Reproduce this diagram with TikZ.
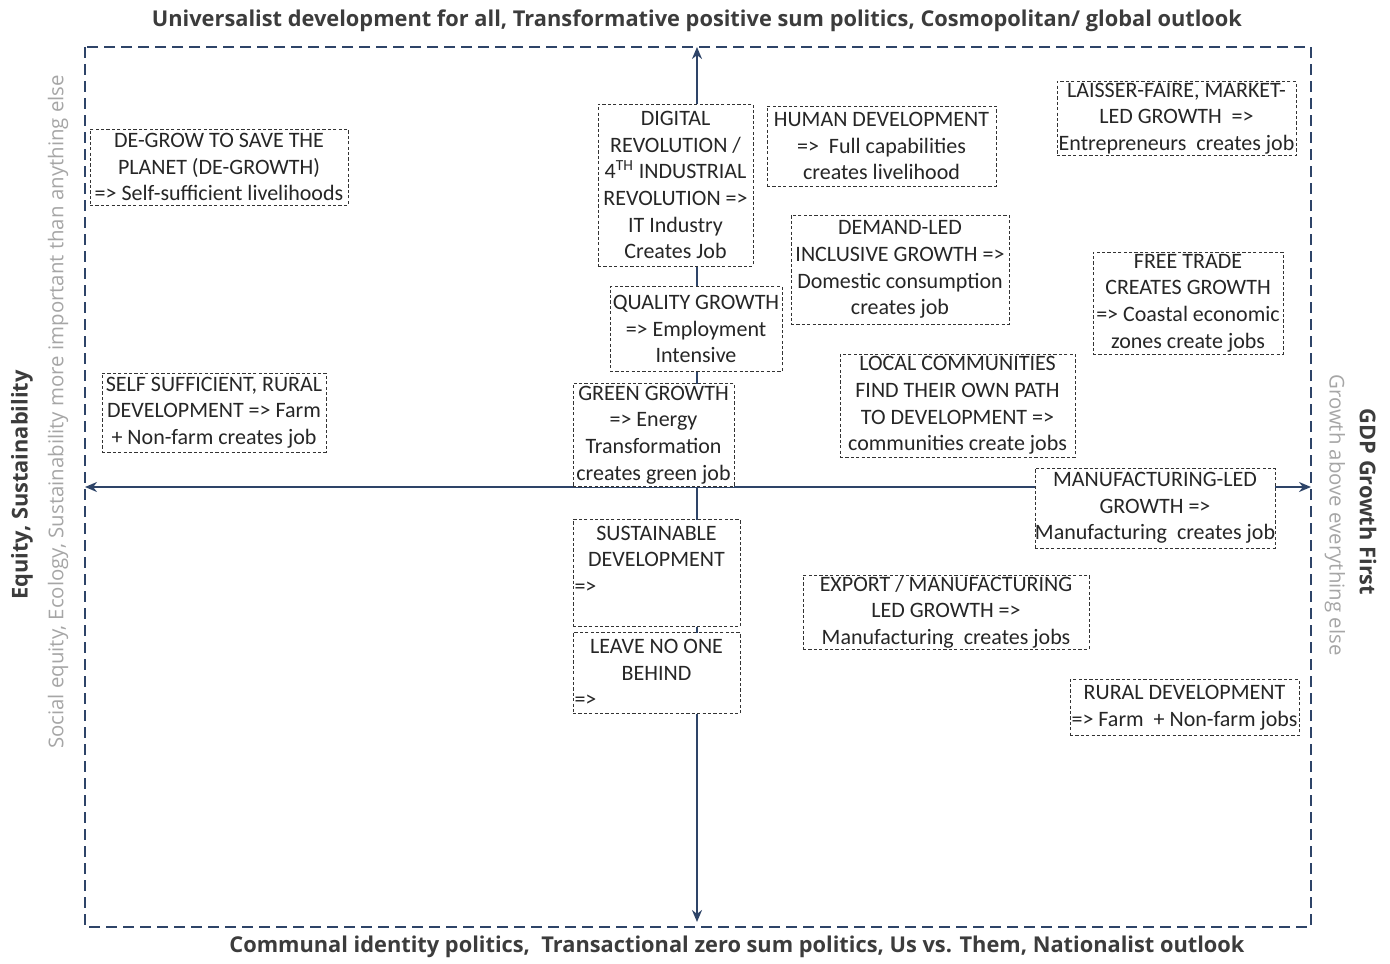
\documentclass[tikz,border=0pt]{standalone}
\usepackage{fontspec}
\setmainfont{Carlito}
\newfontfamily\headfont{Open Sans}
\usepackage{tikz}
\usetikzlibrary{arrows.meta}

\definecolor{navy}{HTML}{2E4468}
\definecolor{txt}{HTML}{262626}
\definecolor{subgray}{HTML}{A6A6A6}

\begin{document}
\begin{tikzpicture}[x=0.5pt,y=-0.5pt,
  box/.style={draw=black!80, dash pattern=on 1.6pt off 1.1pt, line width=0.4pt, fill=white,
    text=txt, align=center, inner sep=0pt, font=\fontsize{11}{13.35}\selectfont},
  axis/.style={draw=navy, line width=1pt, {Stealth[length=6pt,width=5pt]}-{Stealth[length=6pt,width=5pt]}},
  frame/.style={draw=navy, line width=1.4pt, dash pattern=on 5.5pt off 3pt},
  head/.style={text=txt!90, font=\headfont\bfseries\fontsize{10.9}{12}\selectfont},
  sub/.style={text=subgray, font=\headfont\fontsize{10.2}{12}\selectfont}]
\useasboundingbox (0,0) rectangle (1390,963);

% Frame
\coordinate (nw) at (85,47);
\coordinate (se) at (1311,927);
\draw[frame] (nw) rectangle (se);

% Axes
\coordinate (top) at (697,47);
\coordinate (bottom) at (697,922);
\coordinate (left) at (85,487);
\coordinate (right) at (1311,487);
\draw[axis] (bottom) -- (top);
\draw[axis] (left) -- (right);

% Boxes, upper left
\node[box, minimum width=129pt, minimum height=38pt] (degrow) at (219,167)
  {DE-GROW TO SAVE THE\\PLANET (DE-GROWTH)\\=> Self-sufficient livelihoods};
\node[box, minimum width=112pt, minimum height=39.5pt] (selfsuff) at (214,412.5)
  {SELF SUFFICIENT, RURAL\\DEVELOPMENT => Farm\\+ Non-farm creates job};

% Boxes along the vertical axis
\node[box, minimum width=77.5pt, minimum height=81pt] (digital) at (675.5,185)
  {DIGITAL\\REVOLUTION /\\4\textsuperscript{TH} INDUSTRIAL\\REVOLUTION =>\\IT Industry\\Creates Job};
\node[box, minimum width=86pt, minimum height=42.5pt] (quality) at (696,329)
  {QUALITY GROWTH\\=> Employment\\Intensive};
\node[box, minimum width=80.5pt, minimum height=51.5pt] (green) at (653.5,435)
  {GREEN GROWTH\\=> Energy\\Transformation\\creates green job};
\node[box, minimum width=83.5pt, minimum height=53.5pt] (sustain) at (656.5,573)
  {SUSTAINABLE\\DEVELOPMENT\\\makebox[82pt][l]{=>}\\~};
\node[box, minimum width=83.5pt, minimum height=40.5pt] (leave) at (656.5,673)
  {LEAVE NO ONE\\BEHIND\\\makebox[82pt][l]{=>}};

% Boxes, upper right
\node[box, minimum width=114.5pt, minimum height=40pt] (human) at (881.5,146)
  {HUMAN DEVELOPMENT\\=>\ \ Full capabilities\\creates livelihood};
\node[box, minimum width=119.5pt, minimum height=37pt] (laisser) at (1176.5,118.5)
  {LAISSER-FAIRE, MARKET-\\LED GROWTH \ =>\\Entrepreneurs \ creates job};
\node[box, minimum width=109pt, minimum height=54.5pt] (demand) at (900,269.5)
  {DEMAND-LED\\INCLUSIVE GROWTH =>\\Domestic consumption\\creates job};
\node[box, minimum width=95pt, minimum height=51pt] (freetrade) at (1188,303)
  {FREE TRADE\\CREATES GROWTH\\=> Coastal economic\\zones create jobs};
\node[box, minimum width=117.5pt, minimum height=51.5pt] (local) at (957.5,405.5)
  {LOCAL COMMUNITIES\\FIND THEIR OWN PATH\\TO DEVELOPMENT =>\\communities create jobs};

% Boxes, lower right
\node[box, minimum width=120pt, minimum height=40pt] (manuf) at (1155,508)
  {MANUFACTURING-LED\\GROWTH =>\\Manufacturing \ creates job};
\node[box, minimum width=143pt, minimum height=37pt] (export) at (946,612)
  {EXPORT / MANUFACTURING\\LED GROWTH =>\\Manufacturing \ creates jobs};
\node[box, minimum width=114.5pt, minimum height=28pt] (rural) at (1184.5,707.5)
  {RURAL DEVELOPMENT\\=> Farm \ + Non-farm jobs};

% Axis labels
\node[head] (toplabel) at (697,21)
  {Universalist development for all, Transformative positive sum politics, Cosmopolitan/ global outlook};
\node[head] (bottomlabel) at (737,947)
  {Communal identity politics, \ Transactional zero sum politics, Us vs. Them, Nationalist outlook};
\node[head, rotate=90] (leftlabel) at (22,485) {Equity, Sustainability};
\node[sub, rotate=90] (leftsub) at (58,412)
  {Social equity, Ecology, Sustainability more important than anything else};
\node[head, rotate=-90] (rightlabel) at (1368,502) {GDP Growth First};
\node[sub, rotate=-90] (rightsub) at (1335,515) {Growth above everything else};
\end{tikzpicture}
\end{document}
